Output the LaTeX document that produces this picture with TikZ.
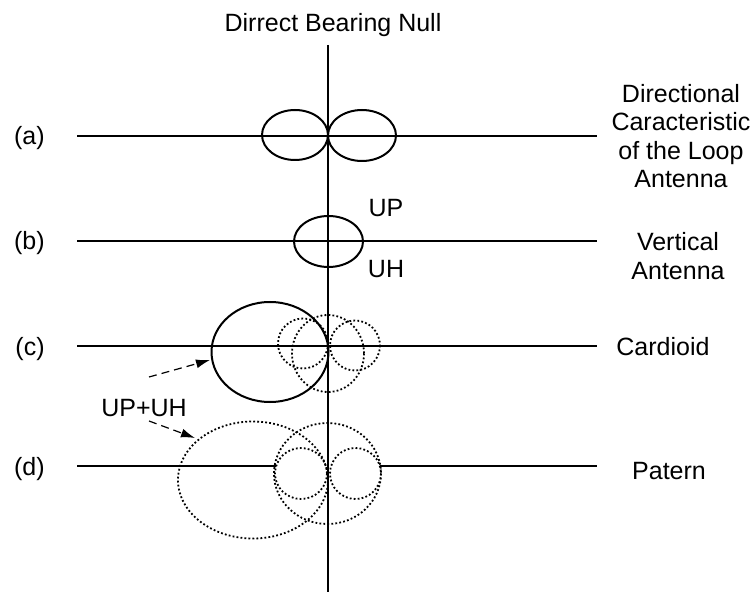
\documentclass[tikz,border=0pt]{standalone}
\usepackage{fontspec}
\setmainfont{Liberation Sans}
\usetikzlibrary{arrows.meta}

\begin{document}
\begin{tikzpicture}[x=0.5bp,y=-0.5bp,every node/.style={font=\fontsize{12.5bp}{14.25bp}\selectfont,inner sep=0pt},axis/.style={line width=1bp},lobe/.style={line width=1bp},dotlobe/.style={line width=0.9bp,dash pattern=on 0.9bp off 1.1bp},ptr/.style={-{Latex[length=7bp,width=4.5bp]},line width=0.6bp,dash pattern=on 4bp off 2.5bp}]
\useasboundingbox (0,0) rectangle (755,597);
% bearing axis
\node[anchor=base] (title) at (333,32) {Dirrect Bearing Null};
\coordinate (null-top) at (328,45);
\coordinate (null-bot) at (328,592);
\draw[axis] (null-top) -- (null-bot);
% rows (a)-(c)
\foreach \y/\r in {136/a,241/b,346/c}{
  \node[anchor=base east] (lbl-\r) at (45,\y+9) {(\r)};
  \coordinate (\r-w) at (77,\y);
  \coordinate (\r-e) at (597,\y);
  \draw[axis] (\r-w) -- (\r-e);
}
% row (d), line broken inside the pattern
\node[anchor=base east] (lbl-d) at (45,475) {(d)};
\coordinate (d-w) at (77,466);
\coordinate (d-e) at (597,466);
\coordinate (d-gl) at (276,466);
\coordinate (d-gr) at (380,466);
\draw[axis] (d-w) -- (d-gl) (d-gr) -- (d-e);

% (a) loop antenna
\draw[lobe] (295,135) ellipse [x radius=33,y radius=25];
\draw[lobe] (362,135.5) ellipse [x radius=34,y radius=25.5];
\node[align=center] (lbl-loop) at (681,136) {Directional\\Caracteristic\\of the Loop\\Antenna};

% (b) vertical antenna
\draw[lobe] (328.5,241.5) ellipse [x radius=34.5,y radius=25.5];
\node[anchor=base] (up) at (386,217) {UP};
\node[anchor=base] (uh) at (386,278) {UH};
\node[align=center] (lbl-vert) at (678,256) {Vertical\\Antenna};

% (c) cardioid
\draw[dotlobe] (303,343.5) circle [radius=25];
\draw[dotlobe] (355,345.5) circle [radius=25];
\draw[dotlobe] (328,353.5) ellipse [x radius=36,y radius=38.5];
\draw[lobe] (270,352) ellipse [x radius=58.5,y radius=50];
\node[anchor=base west] (lbl-card) at (616,355) {Cardioid};

% (d) pattern
\draw[dotlobe] (253,480) ellipse [x radius=75,y radius=58.5];
\draw[dotlobe] (327.5,473.5) ellipse [x radius=53.5,y radius=50.5];
\draw[dotlobe] (301,473.5) ellipse [x radius=26,y radius=25.5];
\draw[dotlobe] (355.5,473.5) ellipse [x radius=25.5,y radius=25.5];
\node[anchor=base] (lbl-pat) at (669,479) {Patern};

% sum label and pointers
\node[anchor=base] (sum) at (144,416) {UP+UH};
\coordinate (sum-c) at (149,377);
\coordinate (card-w) at (210,360);
\coordinate (sum-d) at (149,421);
\coordinate (pat-w) at (195,438);
\draw[ptr] (sum-c) -- (card-w);
\draw[ptr] (sum-d) -- (pat-w);
\end{tikzpicture}
\end{document}
